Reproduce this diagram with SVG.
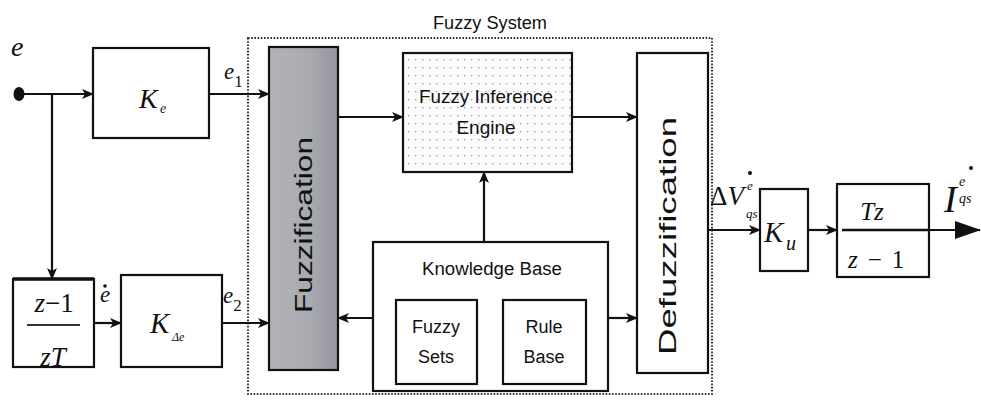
<svg xmlns="http://www.w3.org/2000/svg" width="981" height="401" viewBox="0 0 981 401">
  <defs>
    <style>
      .box { fill: #fff; stroke: #111; stroke-width: 2.2; }
      .wire { fill: none; stroke: #111; stroke-width: 2.2; }
      .sans { font-family: "Liberation Sans", Arial, sans-serif; fill: #111; }
      .math { font-family: "Liberation Serif", "Times New Roman", serif; font-style: italic; fill: #111; }
    </style>
    <marker id="arrow" viewBox="0 0 12 10" refX="11" refY="5" markerWidth="12" markerHeight="10" markerUnits="userSpaceOnUse" orient="auto">
      <path d="M0,0 L12,5 L0,10 L3,5 Z" fill="#111"/>
    </marker>
    <marker id="arrowBig" viewBox="0 0 26 18" refX="25" refY="9" markerWidth="26" markerHeight="18" markerUnits="userSpaceOnUse" orient="auto">
      <path d="M0,0 L26,9 L0,18 Z" fill="#111"/>
    </marker>
    <linearGradient id="fuzzGrad" x1="0" y1="0" x2="1" y2="0">
      <stop offset="0" stop-color="#b3b3ba"/>
      <stop offset="0.6" stop-color="#a9a9b0"/>
      <stop offset="1" stop-color="#95959d"/>
    </linearGradient>
    <pattern id="dots" width="7" height="8" patternUnits="userSpaceOnUse">
      <rect width="7" height="8" fill="#fbfbfb"/>
      <rect x="2" y="3" width="1.3" height="1.3" fill="#9a9a9a"/>
    </pattern>
  </defs>

  <!-- dotted boundary of the fuzzy system -->
  <g id="fuzzy-system">
    <rect x="248" y="38" width="464" height="356" fill="none" stroke="#333" stroke-width="2" stroke-dasharray="1.6 1.6"/>
    <text class="sans" x="490" y="29" font-size="18" text-anchor="middle" textLength="114" lengthAdjust="spacingAndGlyphs">Fuzzy System</text>
  </g>

  <!-- input terminal -->
  <g id="input-e">
    <ellipse cx="19" cy="94" rx="5.5" ry="7" fill="#111"/>
    <text class="math" x="11" y="56" font-size="28">e</text>
  </g>

  <g id="gain-ke">
    <rect class="box" x="93" y="48" width="116" height="90"/>
    <text class="math" x="139" y="108" font-size="28">K</text>
    <text class="math" x="160" y="113" font-size="14">e</text>
  </g>

  <g id="diff-block">
    <rect class="box" x="13" y="279" width="81" height="88"/>
    <line x1="13" y1="279" x2="94" y2="279" stroke="#111" stroke-width="3.5"/>
    <text class="math" x="54" y="312" font-size="27" text-anchor="middle">z<tspan font-style="normal">−</tspan><tspan font-style="normal">1</tspan></text>
    <line x1="27" y1="325" x2="80" y2="325" stroke="#333" stroke-width="2"/>
    <text class="math" x="53" y="366" font-size="27" text-anchor="middle">zT</text>
  </g>

  <g id="gain-kde">
    <rect class="box" x="121" y="275" width="101" height="92"/>
    <text class="math" x="150" y="333" font-size="29">K</text>
    <text class="math" x="172" y="341" font-size="12">Δe</text>
  </g>

  <g id="fuzzification">
    <rect x="269" y="47" width="69" height="323" fill="url(#fuzzGrad)" stroke="#111" stroke-width="2.2"/>
    <text class="sans" transform="translate(312,225) rotate(-90)" x="0" y="0" font-size="23" text-anchor="middle" textLength="176" lengthAdjust="spacingAndGlyphs">Fuzzification</text>
  </g>

  <g id="inference-engine">
    <rect x="403" y="53" width="169" height="119" fill="url(#dots)" stroke="#111" stroke-width="2.2"/>
    <text class="sans" x="486" y="103" font-size="19" text-anchor="middle" textLength="134" lengthAdjust="spacingAndGlyphs">Fuzzy Inference</text>
    <text class="sans" x="486" y="134" font-size="19" text-anchor="middle">Engine</text>
  </g>

  <g id="knowledge-base">
    <rect class="box" x="373" y="242" width="235" height="149"/>
    <text class="sans" x="492" y="275" font-size="18" text-anchor="middle" textLength="140" lengthAdjust="spacingAndGlyphs">Knowledge Base</text>
  </g>

  <g id="fuzzy-sets">
    <rect class="box" x="396" y="300" width="81" height="84"/>
    <text class="sans" x="436" y="333" font-size="18" text-anchor="middle">Fuzzy</text>
    <text class="sans" x="436" y="363" font-size="18" text-anchor="middle">Sets</text>
  </g>

  <g id="rule-base">
    <rect class="box" x="503" y="300" width="83" height="84"/>
    <text class="sans" x="544" y="333" font-size="18" text-anchor="middle">Rule</text>
    <text class="sans" x="544" y="363" font-size="18" text-anchor="middle">Base</text>
  </g>

  <g id="defuzzification">
    <rect class="box" x="637" y="53" width="71" height="320"/>
    <text class="sans" transform="translate(676,236) rotate(-90)" x="0" y="0" font-size="24" text-anchor="middle" textLength="238" lengthAdjust="spacingAndGlyphs">Defuzzification</text>
  </g>

  <g id="gain-ku">
    <rect class="box" x="760" y="189" width="48" height="82"/>
    <text class="math" x="764" y="242" font-size="29">K</text>
    <text class="math" x="786" y="250" font-size="20">u</text>
  </g>

  <g id="integrator">
    <rect class="box" x="837" y="184" width="92" height="93"/>
    <line x1="842" y1="230" x2="929" y2="230" stroke="#111" stroke-width="2.6"/>
    <text class="math" x="872" y="220" font-size="25" text-anchor="middle">Tz</text>
    <text class="math" x="848" y="268" font-size="25">z<tspan font-style="normal" dx="10">−</tspan><tspan font-style="normal" dx="10">1</tspan></text>
  </g>

  <!-- signal labels -->
  <g id="labels">
    <text class="math" x="224" y="79" font-size="23">e<tspan font-style="normal" font-size="17" dy="8">1</tspan></text>
    <text class="math" x="100" y="302" font-size="23">e</text>
    <circle cx="105" cy="286" r="1.8" fill="#111"/>
    <text class="math" x="223" y="303" font-size="23">e<tspan font-style="normal" font-size="17" dy="8">2</tspan></text>
    <text class="math" x="710" y="205" font-size="27"><tspan font-style="normal">Δ</tspan>V</text>
    <text class="math" x="747" y="190" font-size="13">e</text>
    <circle cx="750" cy="173" r="2" fill="#111"/>
    <text class="math" x="746" y="218" font-size="13">qs</text>
    <text class="math" x="944" y="212" font-size="38">I</text>
    <text class="math" x="959" y="186" font-size="14">e</text>
    <circle cx="971" cy="168" r="2" fill="#111"/>
    <text class="math" x="959" y="203" font-size="14">qs</text>
  </g>

  <!-- signal paths -->
  <g id="connectors">
    <line class="wire" x1="19" y1="94" x2="93" y2="94" marker-end="url(#arrow)"/>
    <line class="wire" x1="52" y1="94" x2="52" y2="279" marker-end="url(#arrow)"/>
    <line class="wire" x1="209" y1="94" x2="269" y2="94" marker-end="url(#arrow)"/>
    <line class="wire" x1="94" y1="323" x2="121" y2="323" marker-end="url(#arrow)"/>
    <line class="wire" x1="222" y1="323" x2="269" y2="323" marker-end="url(#arrow)"/>
    <line class="wire" x1="338" y1="117" x2="403" y2="117" marker-end="url(#arrow)"/>
    <line class="wire" x1="572" y1="117" x2="637" y2="117" marker-end="url(#arrow)"/>
    <line class="wire" x1="484" y1="242" x2="484" y2="172" marker-end="url(#arrow)"/>
    <line class="wire" x1="373" y1="318" x2="338" y2="318" marker-end="url(#arrow)"/>
    <line class="wire" x1="608" y1="318" x2="637" y2="318" marker-end="url(#arrow)"/>
    <line class="wire" x1="708" y1="230" x2="760" y2="230" marker-end="url(#arrow)"/>
    <line class="wire" x1="808" y1="230" x2="837" y2="230" marker-end="url(#arrow)"/>
    <line class="wire" x1="929" y1="230" x2="980" y2="230" marker-end="url(#arrowBig)"/>
  </g>
</svg>
